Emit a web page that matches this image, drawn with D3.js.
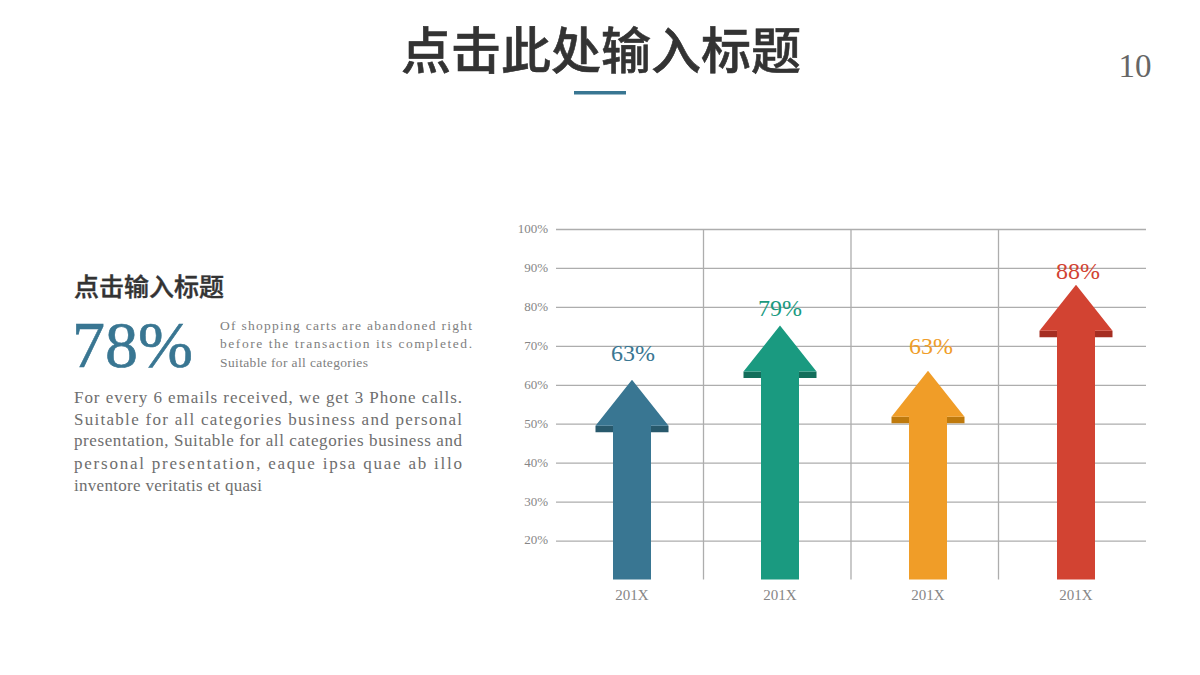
<!DOCTYPE html>
<html>
<head>
<meta charset="utf-8">
<style>
html,body{margin:0;padding:0;background:#fff;}
svg{display:block;}
text{font-family:"Liberation Serif",serif;}
.cjk{font-family:"Noto Sans CJK SC",sans-serif;font-weight:500;}
.axis path{display:none;}
.axis line{stroke:#adadad;stroke-width:1.3;}
.axis text{fill:#868686;font-family:"Liberation Serif",serif;}
</style>
</head>
<body>
<div id="app"></div>
<script src="https://cdn.jsdelivr.net/npm/d3@7/dist/d3.min.js"></script>
<script>
const categories = ['a','b','c','d'];
const categoryLabels = ['201X','201X','201X','201X'];
// where each arrow tip really sits on the value axis (not the same as its label)
const arrowTips = [61.3,75.2,63.6,85.7];
const valueLabels = ['63%','79%','63%','88%'];
const yTicks = [20,30,40,50,60,70,80,90,100];
const fills = ['#397692','#1a9a80','#f09d28','#d24332'];
const darks = ['#28596c','#136e5b','#bf7a0d','#a52e22'];

const noteLines = ['Of shopping carts are abandoned right','before the transaction its completed.','Suitable for all categories'];
const bodyLines = ['For every 6 emails received, we get 3 Phone calls.','Suitable for all categories business and personal','presentation, Suitable for all categories business and','personal presentation, eaque ipsa quae ab illo','inventore veritatis et quasi'];

let svg = d3.select('#app').append('svg').attr('width',1200).attr('height',675);

// header
svg.append('text').attr('class','cjk').attr('x',601).attr('y',69).attr('text-anchor','middle')
	.attr('font-size',50).attr('fill','#333').attr('stroke','#333').attr('stroke-width',0.6).text('点击此处输入标题');
svg.append('rect').attr('x',574).attr('y',91).attr('width',52).attr('height',3.5).attr('fill','#397692');
svg.append('text').attr('x',1135).attr('y',77).attr('text-anchor','middle')
	.attr('font-size',33).attr('fill','#666').text('10');

// left column
svg.append('text').attr('class','cjk').attr('x',74).attr('y',296).attr('font-size',25)
	.attr('fill','#333').attr('stroke','#333').attr('stroke-width',0.4).text('点击输入标题');
svg.append('text').attr('x',72).attr('y',367).attr('font-size',66).attr('fill','#397692')
	.attr('stroke','#397692').attr('stroke-width',0.6).text('78%');

let noteWidths = [252,252,148];
let noteY = [330,348,367];
svg.selectAll('.note').data(noteLines).enter().append('text').attr('class','note')
	.attr('x',220).attr('y',(d,i)=>noteY[i]).attr('font-size',13.5).attr('fill','#808080')
	.attr('textLength',(d,i)=>noteWidths[i]).attr('lengthAdjust','spacing').text(d=>d);

let bodyWidths = [388,388,388,388,188];
let bodyY = [403,425,446,469,491];
svg.selectAll('.body').data(bodyLines).enter().append('text').attr('class','body')
	.attr('x',74).attr('y',(d,i)=>bodyY[i]).attr('font-size',17).attr('fill','#6e6e6e')
	.attr('textLength',(d,i)=>bodyWidths[i]).attr('lengthAdjust','spacing').text(d=>d);

// chart
let y = d3.scaleLinear().domain([10,100]).range([579.5,229]);
let x = d3.scaleBand().domain(categories).range([556,1146]);
// arrows sit a little right of the band centres, spaced slightly wider than the grid
let xArrow = d3.scaleBand().domain(categories).range([558,1150]);

svg.append('g').attr('class','axis').attr('transform','translate(556,0)')
	.call(d3.axisLeft(y).tickValues(yTicks).tickSize(-590).tickPadding(8).tickFormat(d=>d+'%'))
	.selectAll('text').attr('font-size',13).attr('dy','0.26em');

// vertical separators between the categories
svg.append('g').selectAll('line').data(categories.slice(1)).enter().append('line')
	.attr('x1',d=>x(d)).attr('x2',d=>x(d))
	.attr('y1',y(100)).attr('y2',y(10))
	.attr('stroke','#adadad').attr('stroke-width',1.3);

let xAxis = svg.append('g').attr('class','axis').attr('transform','translate(0,'+y(10)+')')
	.call(d3.axisBottom(xArrow).tickSize(0).tickPadding(10).tickFormat((d,i)=>categoryLabels[i]));
xAxis.selectAll('text').attr('font-size',15);

// arrow shape, in pixels around the tip
const headW = 36.5, shaftW = 19, headH = 46, lipH = 6.5;
const labelLift = [19,10,17,6];
const labelShift = [1,0,3,2];

let arrows = svg.append('g').selectAll('g').data(categories).enter().append('g')
	.attr('transform',d=>'translate('+(xArrow(d)+xArrow.bandwidth()/2)+',0)');

arrows.append('path').attr('fill',(d,i)=>darks[i]).attr('d',(d,i)=>{
	let t = y(arrowTips[i])+headH;
	let p = d3.path();
	p.moveTo(-headW,t); p.lineTo(headW,t); p.lineTo(headW,t+lipH); p.lineTo(-headW,t+lipH);
	p.closePath();
	return p.toString();
});

arrows.append('path').attr('fill',(d,i)=>fills[i]).attr('d',(d,i)=>{
	let tip = y(arrowTips[i]);
	let p = d3.path();
	p.moveTo(0,tip);
	p.lineTo(headW,tip+headH);
	p.lineTo(shaftW,tip+headH);
	p.lineTo(shaftW,y(10));
	p.lineTo(-shaftW,y(10));
	p.lineTo(-shaftW,tip+headH);
	p.lineTo(-headW,tip+headH);
	p.closePath();
	return p.toString();
});

arrows.append('text').attr('text-anchor','middle')
	.attr('x',(d,i)=>labelShift[i])
	.attr('y',(d,i)=>y(arrowTips[i])-labelLift[i])
	.attr('font-size',24).attr('fill',(d,i)=>fills[i])
	.text((d,i)=>valueLabels[i]);
</script>
</body>
</html>
